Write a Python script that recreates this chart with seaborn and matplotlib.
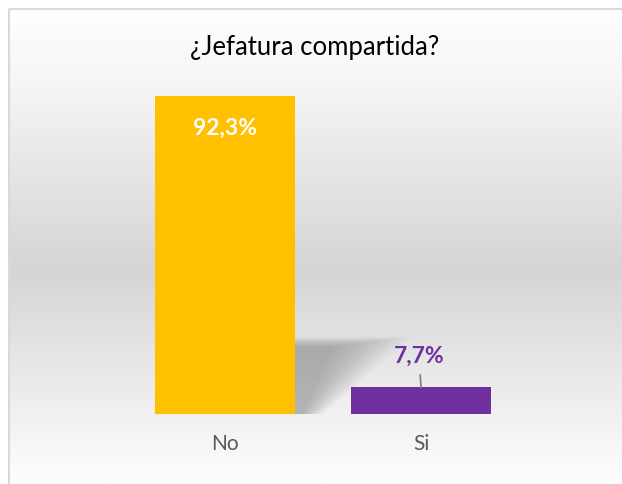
import numpy as np
import matplotlib.pyplot as plt
import matplotlib.colors as mcolors
from matplotlib.patches import Polygon
import seaborn as sns

# Data
categories = ["No", "Si"]
values = [92.3, 7.7]
labels = ["92,3%", "7,7%"]
bar_colors = ["#FFC000", "#7030A0"]
title = "¿Jefatura compartida?"

sns.set_theme(style="white")
plt.rcParams["font.family"] = ["Lato", "DejaVu Sans"]

W, H = 622, 485
fig = plt.figure(figsize=(W / 100, H / 100), dpi=100)
fig.patch.set_facecolor("white")

# background gradient of the chart area
bg = fig.add_axes([9 / W, 0, 1 - 9 / W, 1 - 10 / H])
bg.set_axis_off()
grad = mcolors.LinearSegmentedColormap.from_list(
    "bg", [(0, "#ffffff"), (0.15, "#f6f6f6"), (0.55, "#d5d5d5"), (1.0, "#fefefe")]
)
bg.imshow(np.linspace(0, 1, 256).reshape(-1, 1), aspect="auto", cmap=grad,
          extent=[0, 1, 0, 1])
bg.set_xlim(0, 1)
bg.set_ylim(0, 1)
bg.plot([0, 0, 1], [0, 1, 1], color="#d9d9d9", lw=1.5, clip_on=False)

# main plot
ax = fig.add_axes([127 / W, 70 / H, 392 / W, 344.5 / H])
ax.patch.set_alpha(0)
sns.barplot(x=categories, y=values, hue=categories, palette=bar_colors,
            width=0.714, saturation=1, legend=False, linewidth=0, ax=ax)
ax.set_xlim(-0.5, 1.5)
ax.set_ylim(0, 100)
ax.set_yticks([])
ax.set_xlabel("")
ax.set_ylabel("")
sns.despine(ax=ax, left=True, bottom=True)
ax.tick_params(axis="x", length=0, pad=14, labelsize=15, labelcolor="#595959")

# soft shadow behind the tall bar
big = ax.patches[0]
xr = big.get_x() + big.get_width()
n = 16
for i in range(n):
    k = i / (n - 1)
    top = 22.5 - 3 * k
    reach = 0.6 - 0.4 * k
    foot = 0.14 - 0.1 * k
    ax.add_patch(Polygon([(xr, 0), (xr, top), (xr + reach, top), (xr + foot, 0)],
                         closed=True, facecolor="black", alpha=0.015, lw=0, zorder=1))
for p in ax.patches[:2]:
    p.set_zorder(3)

# data labels
ax.annotate(labels[0], xy=(0, values[0]), xytext=(0, -31), textcoords="offset pixels",
            ha="center", va="center", color="white", fontsize=16.5, fontweight="bold",
            zorder=4)
ax.annotate(labels[1], xy=(1, values[1]), xytext=(-2, 32), textcoords="offset pixels",
            ha="center", va="center", color="#7030A0", fontsize=16.5, fontweight="bold",
            arrowprops=dict(arrowstyle="-", color="#7f7f7f", lw=1.2, shrinkA=4, shrinkB=0),
            zorder=4)

fig.text(315 / W, 1 - 47 / H, title, ha="center", va="center", fontsize=18.5,
         color="#000000")

fig.savefig("out.png", dpi=100)
